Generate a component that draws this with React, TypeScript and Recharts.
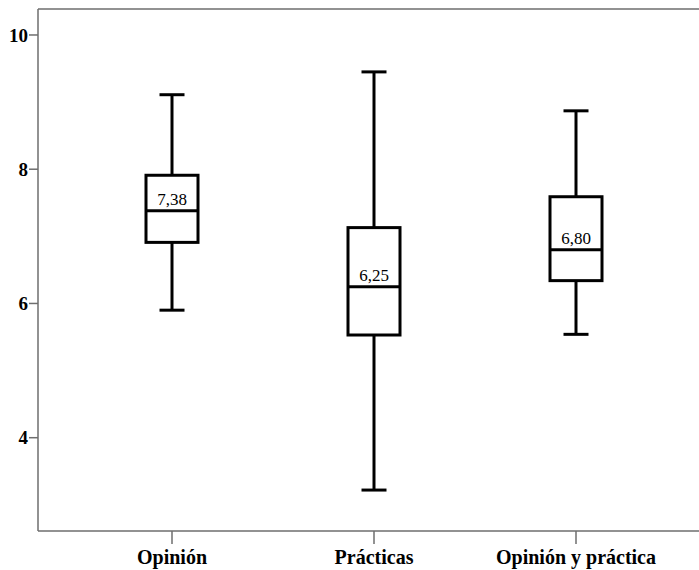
import React from 'react';
import { ComposedChart, Bar, XAxis, YAxis, ReferenceLine } from 'recharts';

const categories = ['Opinión', 'Prácticas', 'Opinión y práctica'];
const whiskerLow = [5.9, 3.22, 5.54];
const q1 = [6.91, 5.53, 6.34];
const medians = [7.38, 6.25, 6.8];
const q3 = [7.91, 7.13, 7.59];
const whiskerHigh = [9.11, 9.45, 8.87];
const medianLabels = ['7,38', '6,25', '6,80'];
const yTicks = [4, 6, 8, 10];
const yDomain: [number, number] = [2.61, 10.387];

const data = categories.map((name, i) => ({
  name,
  min: whiskerLow[i],
  q1: q1[i],
  median: medians[i],
  q3: q3[i],
  max: whiskerHigh[i],
  label: medianLabels[i],
}));

const FONT = '"Liberation Serif", "Times New Roman", serif';

const BoxShape = (props: any) => {
  const { x, y, width, height, payload } = props;
  if (x == null || y == null) return null;
  const top = Math.min(y, y + height);
  const h = Math.abs(height);
  const span = payload.max - payload.min;
  const pos = (v: number) => top + ((payload.max - v) / span) * h;
  const cx = x + width / 2;
  const capHalf = 12.5;
  const yMax = pos(payload.max);
  const yMin = pos(payload.min);
  const yQ3 = pos(payload.q3);
  const yQ1 = pos(payload.q1);
  const yMed = pos(payload.median);
  const sw = 3;
  return (
    <g>
      <line x1={cx} x2={cx} y1={yMax} y2={yQ3} stroke="#000" strokeWidth={sw} />
      <line x1={cx} x2={cx} y1={yQ1} y2={yMin} stroke="#000" strokeWidth={sw} />
      <line x1={cx - capHalf} x2={cx + capHalf} y1={yMax} y2={yMax} stroke="#000" strokeWidth={sw} />
      <line x1={cx - capHalf} x2={cx + capHalf} y1={yMin} y2={yMin} stroke="#000" strokeWidth={sw} />
      <rect x={x} y={yQ3} width={width} height={yQ1 - yQ3} fill="#fff" stroke="#000" strokeWidth={sw} />
      <line x1={x} x2={x + width} y1={yMed} y2={yMed} stroke="#000" strokeWidth={sw} />
      <text x={cx} y={yMed - 6} textAnchor="middle" fontFamily={FONT} fontSize={17} fill="#000">
        {payload.label}
      </text>
    </g>
  );
};

export default function App() {
  return (
    <div style={{ position: 'absolute', left: 0, top: 0, width: 699, height: 570, background: '#fff' }}>
      <ComposedChart
        width={699}
        height={570}
        data={data}
        margin={{ top: 9, right: 0, bottom: 0, left: 0 }}
        style={{ fontFamily: FONT }}
      >
        <XAxis
          dataKey="name"
          type="category"
          padding={{ left: 33, right: 22 }}
          height={39}
          tickSize={13}
          tickMargin={6}
          axisLine={{ stroke: '#6e6e6e', strokeWidth: 1.5 }}
          tickLine={{ stroke: '#6e6e6e', strokeWidth: 1.5 }}
          tick={{ fill: '#000', fontSize: 20, fontWeight: 'bold', fontFamily: FONT }}
          interval={0}
        />
        <YAxis
          type="number"
          domain={yDomain}
          ticks={yTicks}
          allowDataOverflow
          width={38}
          tickSize={9}
          tickMargin={1}
          axisLine={{ stroke: '#6e6e6e', strokeWidth: 1.5 }}
          tickLine={{ stroke: '#6e6e6e', strokeWidth: 1.5 }}
          tick={{ fill: '#000', fontSize: 19, fontWeight: 'bold', fontFamily: FONT }}
        />
        <ReferenceLine y={yDomain[1]} stroke="#6e6e6e" strokeWidth={1.5} />
        <Bar
          dataKey={(d: any) => [d.min, d.max]}
          barSize={52}
          shape={BoxShape}
          isAnimationActive={false}
        />
      </ComposedChart>
    </div>
  );
}
